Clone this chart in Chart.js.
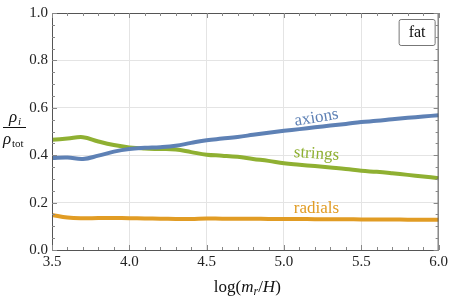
<!DOCTYPE html>
<html>
<head>
<meta charset="utf-8">
<script src="https://cdn.jsdelivr.net/npm/chart.js@4"></script>
<style>
  body { margin: 0; background: #fff; }
  #wrap { width: 451px; height: 300px; }
</style>
</head>
<body>
<div id="wrap"><canvas id="chart" width="451" height="300"></canvas></div>
<script>
// values
var logX = [3.5, 3.6, 3.7, 3.8, 3.9, 4.0, 4.1, 4.2, 4.3, 4.4, 4.5, 4.6, 4.7,
            4.8, 4.9, 5.0, 5.1, 5.2, 5.3, 5.4, 5.5, 5.6, 5.7, 5.8, 5.9, 6.0];
var axions = [0.388, 0.390, 0.384, 0.398, 0.415, 0.426, 0.431, 0.434, 0.440, 0.452, 0.463, 0.470, 0.477,
              0.486, 0.495, 0.503, 0.510, 0.518, 0.525, 0.532, 0.540, 0.545, 0.552, 0.558, 0.563, 0.569];
var strings = [0.465, 0.470, 0.476, 0.458, 0.443, 0.433, 0.428, 0.426, 0.424, 0.413, 0.402, 0.398, 0.393,
               0.384, 0.376, 0.366, 0.360, 0.354, 0.348, 0.342, 0.334, 0.330, 0.324, 0.317, 0.310, 0.303];
var radials = [0.148, 0.137, 0.134, 0.135, 0.135, 0.134, 0.133, 0.132, 0.131, 0.131, 0.133, 0.132, 0.132,
               0.132, 0.131, 0.131, 0.131, 0.130, 0.130, 0.130, 0.129, 0.129, 0.129, 0.128, 0.128, 0.128];
var xTicks = [3.5, 4.0, 4.5, 5.0, 5.5, 6.0];
var yTicks = [0.0, 0.2, 0.4, 0.6, 0.8, 1.0];

var seriesNames = ["axions", "strings", "radials"];
var seriesColors = ["#5E81B5", "#8FB032", "#E19C24"];
// label anchor in data space and rotation (deg)
var labelX = [5.21, 5.21, 5.21];
var labelY = [0.558, 0.405, 0.176];
var labelRot = [-9.5, 4, 0];

var SERIF = "'Liberation Serif', 'DejaVu Serif', serif";

function pts(ys) {
  return logX.map(function (x, i) { return { x: x, y: ys[i] }; });
}

var extras = {
  id: "extras",
  afterDraw: function (chart) {
    var ctx = chart.ctx, a = chart.chartArea;
    var xs = chart.scales.x, ys = chart.scales.y;
    ctx.save();
    // frame
    ctx.strokeStyle = "#555";
    ctx.lineWidth = 1;
    ctx.strokeRect(a.left + 0.5, a.top + 0.5, a.right - a.left - 1, a.bottom - a.top);
    // ticks inside frame
    ctx.strokeStyle = "#888";
    ctx.beginPath();
    for (var k = 0; k <= 25; k++) {
      var v = 3.5 + k * 0.1;
      var px = Math.round(xs.getPixelForValue(v)) + 0.5;
      var len = (k % 5 === 0) ? 5 : 3;
      ctx.moveTo(px, a.bottom); ctx.lineTo(px, a.bottom - len);
      ctx.moveTo(px, a.top); ctx.lineTo(px, a.top + len);
    }
    for (var j = 0; j <= 20; j++) {
      var py = Math.round(ys.getPixelForValue(j * 0.05)) + 0.5;
      var l2 = (j % 4 === 0) ? 5 : 3;
      ctx.moveTo(a.left, py); ctx.lineTo(a.left + l2, py);
      ctx.moveTo(a.right, py); ctx.lineTo(a.right - l2, py);
    }
    ctx.stroke();

    // series labels
    ctx.font = "17px " + SERIF;
    ctx.textAlign = "center";
    ctx.textBaseline = "middle";
    for (var i = 0; i < seriesNames.length; i++) {
      ctx.save();
      ctx.translate(xs.getPixelForValue(labelX[i]), ys.getPixelForValue(labelY[i]));
      ctx.rotate(labelRot[i] * Math.PI / 180);
      ctx.fillStyle = seriesColors[i];
      ctx.fillText(seriesNames[i], 0, 0);
      ctx.restore();
    }

    // "fat" box
    var bw = 36, bh = 26;
    var bx = a.right - 4 - bw, by = a.top + 6;
    ctx.fillStyle = "#fff";
    ctx.fillRect(bx, by, bw, bh);
    ctx.strokeStyle = "#777";
    ctx.lineWidth = 1;
    ctx.beginPath();
    ctx.roundRect(bx + 0.5, by + 0.5, bw, bh, 2);
    ctx.stroke();
    ctx.fillStyle = "#111";
    ctx.font = "16px " + SERIF;
    ctx.fillText("fat", bx + bw / 2 + 0.5, by + bh / 2 + 1);

    // y axis title: rho_i / rho_tot
    ctx.fillStyle = "#111";
    ctx.strokeStyle = "#111";
    ctx.textAlign = "left";
    ctx.textBaseline = "alphabetic";
    ctx.font = "italic 17px " + SERIF;
    ctx.fillText("\u03C1", 9, 122);
    ctx.font = "italic 11px " + SERIF;
    ctx.fillText("i", 18, 125);
    ctx.beginPath();
    ctx.moveTo(3, 127.5); ctx.lineTo(26, 127.5);
    ctx.stroke();
    ctx.font = "italic 17px " + SERIF;
    ctx.fillText("\u03C1", 3, 144);
    ctx.font = "11px " + SERIF;
    ctx.fillText("tot", 12, 147);

    // x axis title: log(m_r/H)
    var parts = [
      ["log(", "17px " + SERIF, 0],
      ["m", "italic 17px " + SERIF, 0],
      ["r", "italic 12px " + SERIF, 3],
      ["/", "17px " + SERIF, 0],
      ["H", "italic 17px " + SERIF, 0],
      [")", "17px " + SERIF, 0]
    ];
    var total = 0;
    parts.forEach(function (p) { ctx.font = p[1]; total += ctx.measureText(p[0]).width; });
    var cx = (a.left + a.right) / 2 - total / 2 + 2;
    parts.forEach(function (p) {
      ctx.font = p[1];
      ctx.fillText(p[0], cx, 292 + p[2]);
      cx += ctx.measureText(p[0]).width;
    });
    ctx.restore();
  }
};

new Chart(document.getElementById("chart"), {
  type: "line",
  data: {
    datasets: [
      { label: "axions", data: pts(axions), borderColor: seriesColors[0] },
      { label: "strings", data: pts(strings), borderColor: seriesColors[1] },
      { label: "radials", data: pts(radials), borderColor: seriesColors[2] }
    ]
  },
  options: {
    responsive: false,
    animation: false,
    layout: { padding: { top: 11, right: 11, left: 0, bottom: 0 } },
    elements: {
      line: { borderWidth: 4, tension: 0.4, fill: false, borderCapStyle: "butt" },
      point: { radius: 0 }
    },
    plugins: { legend: { display: false }, tooltip: { enabled: false } },
    scales: {
      x: {
        type: "linear", min: 3.5, max: 6.0,
        afterBuildTicks: function (s) { s.ticks = xTicks.map(function (v) { return { value: v }; }); },
        ticks: {
          color: "#222", font: { family: SERIF, size: 15 }, padding: 3, maxRotation: 0,
          callback: function (v) { return v.toFixed(1); }
        },
        grid: { color: "#e4e4e4", drawTicks: false },
        border: { display: false },
        afterFit: function (s) { s.height = 50; }
      },
      y: {
        min: 0, max: 1,
        afterBuildTicks: function (s) { s.ticks = yTicks.map(function (v) { return { value: v }; }); },
        ticks: {
          color: "#222", font: { family: SERIF, size: 15 }, padding: 4,
          callback: function (v) { return v.toFixed(1); }
        },
        grid: { color: "#e4e4e4", drawTicks: false },
        border: { display: false },
        afterFit: function (s) { s.width = 52; }
      }
    }
  },
  plugins: [extras]
});
</script>
</body>
</html>
